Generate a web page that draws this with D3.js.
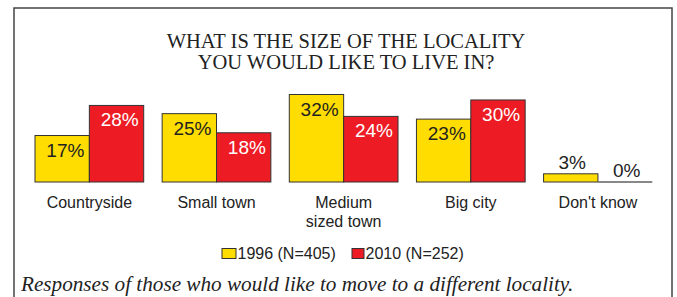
<!DOCTYPE html>
<html>
<head>
<meta charset="utf-8">
<script src="https://cdn.jsdelivr.net/npm/d3@7"></script>
<style>
  body { margin: 0; background: #fff; }
  svg { display: block; }
</style>
</head>
<body>
<div id="chart"></div>
<script>
// Data
var categories = ["Countryside", "Small town", "Medium\nsized town", "Big city", "Don't know"];
var values1996 = [17, 25, 32, 23, 3];
var values2010 = [28, 18, 24, 30, 0];
var seriesNames = ["1996 (N=405)", "2010 (N=252)"];
var titleLines = ["WHAT IS THE SIZE OF THE LOCALITY", "YOU WOULD LIKE TO LIVE IN?"];
var caption = "Responses of those who would like to move to a different locality.";

var width = 677;
var height = 297;
var colors = ["#FFDD00", "#ED1C24"];
var sans = "'Liberation Sans', Arial, sans-serif";
var serif = "'Liberation Serif', 'Times New Roman', serif";

var svg = d3.select("#chart").append("svg")
    .attr("width", width)
    .attr("height", height);

// Frame (bottom edge runs off the picture)
svg.append("rect")
    .attr("x", 14)
    .attr("y", 8)
    .attr("width", 658)
    .attr("height", 320)
    .attr("fill", "none")
    .attr("stroke", "#444")
    .attr("stroke-width", 1.5);

// Title
svg.append("text")
    .attr("text-anchor", "middle")
    .attr("font-family", serif)
    .attr("font-size", "20.5px")
    .attr("fill", "#222")
    .selectAll("tspan")
    .data(titleLines)
    .enter()
    .append("tspan")
    .attr("x", 346)
    .attr("y", (d, i) => 48.3 + i * 20.3)
    .text(d => d);

// Scales
var x0 = d3.scaleBand()
    .domain(categories)
    .range([35, 652.3])
    .paddingInner(0.145)
    .paddingOuter(0);

var x1 = d3.scaleBand()
    .domain([0, 1])
    .range([0, x0.bandwidth()]);

var y = d3.scaleLinear()
    .domain([0, 32])
    .range([182, 94.5]);

var rows = categories.map((c, i) => ({
    cat: c,
    vals: [values1996[i], values2010[i]]
}));

var groups = svg.append("g")
    .selectAll("g")
    .data(rows)
    .enter()
    .append("g")
    .attr("transform", d => "translate(" + x0(d.cat) + ",0)");

var cells = d => d.vals.map((v, s) => ({ v: v, s: s }));

groups.selectAll("rect")
    .data(d => cells(d).filter(c => c.v > 0))
    .enter()
    .append("rect")
    .attr("x", d => x1(d.s))
    .attr("y", d => y(d.v))
    .attr("width", x1.bandwidth())
    .attr("height", d => y(0) - y(d.v))
    .attr("fill", d => colors[d.s])
    .attr("stroke", "#333")
    .attr("stroke-width", 1);

// Zero values are shown as a flat grey line on the baseline
groups.selectAll("line")
    .data(d => cells(d).filter(c => c.v === 0))
    .enter()
    .append("line")
    .attr("x1", d => x1(d.s))
    .attr("x2", d => x1(d.s) + x1.bandwidth())
    .attr("y1", y(0))
    .attr("y2", y(0))
    .attr("stroke", "#888")
    .attr("stroke-width", 2);

// Value labels: inside the bar top, or above it when the bar is short
groups.selectAll("text")
    .data(cells)
    .enter()
    .append("text")
    .attr("font-family", sans)
    .attr("font-size", "19px")
    .attr("text-anchor", d => d.v < 10 ? "middle" : "end")
    .attr("x", d => d.v < 10 ? x1(d.s) + x1.bandwidth() / 2 + 1.5 : x1(d.s) + x1.bandwidth() - 5)
    .attr("y", d => d.v < 10 ? y(d.v) - 5 : y(d.v) + 21)
    .attr("fill", d => (d.v >= 10 && d.s === 1) ? "#fff" : "#222")
    .text(d => d.v + "%");

// Category labels
var xAxis = svg.append("g")
    .attr("transform", "translate(0," + y(0) + ")")
    .call(d3.axisBottom(x0).tickSize(0).tickPadding(0));

xAxis.select(".domain").remove();

xAxis.selectAll(".tick text")
    .attr("font-family", sans)
    .attr("font-size", "16px")
    .attr("fill", "#222")
    .attr("dy", null)
    .attr("y", 26.3)
    .text(null)
    .each(function(d) {
        var t = d3.select(this);
        d.split("\n").forEach((line, i) => {
            t.append("tspan")
                .attr("x", 0)
                .attr("y", 26.3 + i * 18.5)
                .text(line);
        });
    });

// Legend
var legendItems = [
    { name: seriesNames[0], color: colors[0], x: 222, w: 14 },
    { name: seriesNames[1], color: colors[1], x: 352, w: 12 }
];

var legend = svg.append("g")
    .selectAll("g")
    .data(legendItems)
    .enter()
    .append("g");

legend.append("rect")
    .attr("x", d => d.x)
    .attr("y", 248.5)
    .attr("width", d => d.w)
    .attr("height", 10)
    .attr("fill", d => d.color)
    .attr("stroke", "#333")
    .attr("stroke-width", 1);

legend.append("text")
    .attr("x", d => d.x + d.w + 1.5)
    .attr("y", 258.5)
    .attr("font-family", sans)
    .attr("font-size", "16px")
    .attr("fill", "#222")
    .text(d => d.name);

// Caption
svg.append("text")
    .attr("x", 21)
    .attr("y", 291)
    .attr("font-family", serif)
    .attr("font-style", "italic")
    .attr("font-size", "21.2px")
    .attr("fill", "#222")
    .text(caption);
</script>
</body>
</html>
